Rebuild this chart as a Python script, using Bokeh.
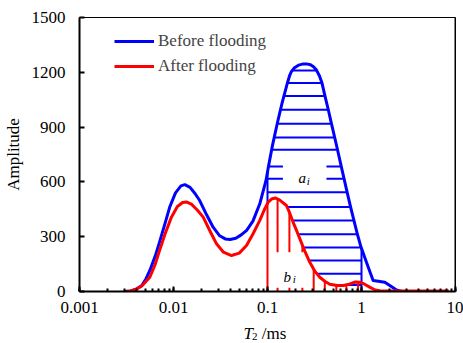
import numpy as np
from bokeh.plotting import figure
from bokeh.layouts import column
from bokeh.models import (Range1d, FixedTicker, LogTicker, Label, Legend, LegendItem,
                          Span, CustomJSTickFormatter)
from bokeh.core.properties import value
from bokeh.embed import file_html
from bokeh.resources import INLINE

# ---- data ----
before_t2 = [0.0030, 0.0035, 0.0040, 0.0046, 0.0051, 0.0056, 0.0064, 0.0071, 0.0081, 0.0091,
             0.0105, 0.0120, 0.0132, 0.0150, 0.0170, 0.0190, 0.0225, 0.0264, 0.0310, 0.0355,
             0.0400, 0.0460, 0.0525, 0.0600, 0.0700, 0.0828, 0.0964, 0.1026, 0.1130, 0.1277,
             0.1426, 0.1632, 0.1714, 0.1800, 0.1937, 0.2137, 0.2357, 0.2600, 0.2867, 0.3086,
             0.3321, 0.3574, 0.3800, 0.4090, 0.4433, 0.4796, 0.5187, 0.5556, 0.6096, 0.6529,
             0.7027, 0.7637, 0.8301, 0.9022, 0.9878, 1.1800, 1.3300, 1.5100, 1.7700, 2.0000,
             2.3600, 2.6700]
before_amp = [0, 3, 12, 33, 70, 115, 195, 270, 370, 461,
              540, 578, 585, 570, 535, 498, 420, 352, 305, 288,
              285, 292, 310, 335, 385, 480, 608, 687, 800, 925,
              1030, 1143, 1180, 1205, 1225, 1239, 1245, 1246, 1241, 1230,
              1212, 1180, 1141, 1070, 995, 918, 843, 776, 684, 617,
              544, 465, 389, 316, 243, 133, 60, 56, 51, 33,
              8, 0]

after_t2 = [0.0031, 0.0035, 0.0040, 0.0046, 0.0056, 0.0064, 0.0071, 0.0082, 0.0095, 0.0110,
            0.0125, 0.0137, 0.0155, 0.0180, 0.0207, 0.0245, 0.0287, 0.0340, 0.0414, 0.0500,
            0.0598, 0.0700, 0.0828, 0.0920, 0.1016, 0.1120, 0.1220, 0.1350, 0.1590, 0.1720,
            0.1870, 0.2040, 0.2210, 0.2500, 0.2820, 0.3200, 0.3600, 0.4100, 0.4600, 0.5500,
            0.6400, 0.7400, 0.8600, 0.9700, 1.0800, 1.2200, 1.4000, 1.5700, 2.0, 3.0, 5.0, 8.5]
after_amp = [0, 3, 12, 30, 78, 150, 224, 320, 407, 465,
             487, 490, 478, 445, 407, 330, 261, 215, 197, 210,
             252, 315, 389, 445, 489, 508, 512, 500, 471, 430,
             380, 333, 288, 220, 160, 110, 78, 55, 40, 33,
             33, 40, 52, 50, 40, 24, 8, 4, 3, 3, 3, 3]

# hatch levels (blue horizontal lines) and red vertical line positions
hatch_levels = [1210, 1141, 1070, 995, 918, 843, 776, 684, 617, 544, 463, 389, 314, 241, 170, 97, 35]
hatch_left_limit = 0.1
hatch_right_limit = 1.0
red_vline_t2 = [0.1, 0.128, 0.171, 0.235, 0.31, 0.407, 0.54, 0.69, 0.92]
red_gap_idx = [1, 2, 3]
red_gap = (20, 215)
a_gap_levels = [684, 617]
a_gap_t2 = (0.146, 0.424)

x_ticks = [0.001, 0.01, 0.1, 1, 10]
y_ticks = [0, 300, 600, 900, 1200, 1500]

FONT = "Liberation Serif"
BLUE = "#0000ff"
RED = "#ff0000"

lb_t, lb_a = np.log10(before_t2), np.array(before_amp, float)
la_t, la_a = np.log10(after_t2), np.array(after_amp, float)


def crossing(lx, ly, level, start, stop):
    """log-x of first crossing of level on segments start..stop-1."""
    for i in range(start, stop):
        y0, y1 = ly[i], ly[i + 1]
        if (y0 - level) * (y1 - level) <= 0 and y0 != y1:
            return lx[i] + (level - y0) * (lx[i + 1] - lx[i]) / (y1 - y0)
    return None


bpk = int(np.argmax(lb_a))
b_start = int(np.searchsorted(lb_t, np.log10(0.08)))
apk = int(np.argmax(np.where(la_t > np.log10(0.08), la_a, 0)))
red_max = la_a[apk]

hx0, hx1, hy = [], [], []
for lev in hatch_levels:
    xr = crossing(lb_t, lb_a, lev, bpk, len(lb_t) - 1)
    xr = min(xr, np.log10(hatch_right_limit))
    if lev > red_max:
        xl = crossing(lb_t, lb_a, lev, b_start, bpk)
        xl = max(xl, np.log10(hatch_left_limit))
    else:
        xl = crossing(la_t, la_a, lev, apk, len(la_t) - 1)
    if lev in a_gap_levels:
        hx0 += [10 ** xl, a_gap_t2[1]]
        hx1 += [a_gap_t2[0], 10 ** xr]
        hy += [lev, lev]
    else:
        hx0.append(10 ** xl)
        hx1.append(10 ** xr)
        hy.append(lev)

rx, ry0, ry1 = [], [], []
for k, t in enumerate(red_vline_t2):
    top = float(np.interp(np.log10(t), la_t, la_a))
    if k in red_gap_idx:
        rx += [t, t]
        ry0 += [0, red_gap[1]]
        ry1 += [red_gap[0], top]
    else:
        rx.append(t)
        ry0.append(0)
        ry1.append(top)

blue_v_x = [hatch_left_limit, hatch_right_limit]
blue_v_y0 = [float(np.interp(np.log10(hatch_left_limit), la_t, la_a)), 0]
blue_v_y1 = [float(np.interp(np.log10(hatch_left_limit), lb_t, lb_a)),
             float(np.interp(np.log10(hatch_right_limit), lb_t, lb_a))]

p = figure(width=463, height=323, x_axis_type="log",
           x_range=Range1d(x_ticks[0], x_ticks[-1]), y_range=Range1d(y_ticks[0], y_ticks[-1]),
           output_backend="svg", toolbar_location=None,
           min_border_left=78, min_border_right=8, min_border_top=17, min_border_bottom=32)
p.xgrid.visible = False
p.ygrid.visible = False
p.outline_line_color = "black"
p.outline_line_width = 1

# hatching
p.segment(x0=hx0, x1=hx1, y0=hy, y1=hy, line_color=BLUE, line_width=2)
p.segment(x0=blue_v_x, x1=blue_v_x, y0=blue_v_y0, y1=blue_v_y1, line_color=BLUE, line_width=2)
p.segment(x0=rx, x1=rx, y0=ry0, y1=ry1, line_color=RED, line_width=2)

blue_r = p.line(before_t2, before_amp, line_color=BLUE, line_width=3, line_join="round")
red_r = p.line(after_t2, after_amp, line_color=RED, line_width=3, line_join="round")

p.add_layout(Span(location=x_ticks[-1], dimension="height", line_color="black", line_width=2))

# axes
xa, ya = p.xaxis[0], p.yaxis[0]
xa.ticker = LogTicker(num_minor_ticks=10)
xa.formatter = CustomJSTickFormatter(code="return String(parseFloat(tick.toPrecision(6)));")
ya.ticker = FixedTicker(ticks=y_ticks)
for ax in (xa, ya):
    ax.axis_line_color = "black"
    ax.axis_line_width = 2
    ax.major_tick_line_color = "black"
    ax.major_tick_line_width = 2
    ax.major_tick_in = 5
    ax.major_tick_out = 0
    ax.minor_tick_in = 3
    ax.minor_tick_out = 0
    ax.minor_tick_line_color = "black"
    ax.minor_tick_line_width = 2
    ax.major_label_text_font = FONT
    ax.major_label_text_font_size = "17px"
    ax.major_label_text_color = "black"
ya.minor_tick_line_color = None
ya.major_label_standoff = 14
xa.major_label_standoff = 10
ya.axis_label = "Amplitude"
ya.axis_label_text_font = FONT
ya.axis_label_text_font_size = "17px"
ya.axis_label_text_font_style = "normal"
ya.axis_label_text_color = "black"
ya.axis_label_standoff = 6


def lab(fig, t, a, text, size, style="normal"):
    fig.add_layout(Label(x=t, y=a, text=text, text_font=FONT, text_font_size=size,
                         text_font_style=style, text_color="black",
                         text_baseline="alphabetic", text_align="left"))


# a_i and b_i
lab(p, 0.214, 619, "a", "15px", "italic")
lab(p, 0.262, 603, "i", "11px", "italic")
lab(p, 0.148, 82, "b", "15px", "italic")
lab(p, 0.186, 66, "i", "11px", "italic")

legend = Legend(items=[LegendItem(label="Before flooding", renderers=[blue_r]),
                       LegendItem(label="After flooding", renderers=[red_r])],
                location=(35, 215), padding=0, margin=0, spacing=5,
                glyph_width=40, glyph_height=20, label_standoff=4,
                label_text_font=FONT, label_text_font_size="17px",
                border_line_alpha=0, background_fill_alpha=0)
p.add_layout(legend)

# x-axis title strip:  T_2 /ms
q = figure(width=463, height=20, x_axis_type="log",
           x_range=p.x_range, y_range=Range1d(0, 20),
           output_backend="svg", toolbar_location=None,
           min_border_left=78, min_border_right=8, min_border_top=0, min_border_bottom=0)
q.axis.visible = False
q.xgrid.visible = False
q.ygrid.visible = False
q.outline_line_color = None
q.text(x=[0.0556], y=[10], text=["T"], text_font=value(FONT), text_font_size="17px",
       text_font_style="italic", text_baseline="alphabetic", text_color="black")
q.text(x=[0.0684], y=[7], text=["2"], text_font=value(FONT), text_font_size="11px",
       text_baseline="alphabetic", text_color="black")
q.text(x=[0.0870], y=[10], text=["/ms"], text_font=value(FONT), text_font_size="17px",
       text_baseline="alphabetic", text_color="black")

layout = column(p, q, spacing=0)
open("out.html", "w").write(file_html(layout, INLINE))
